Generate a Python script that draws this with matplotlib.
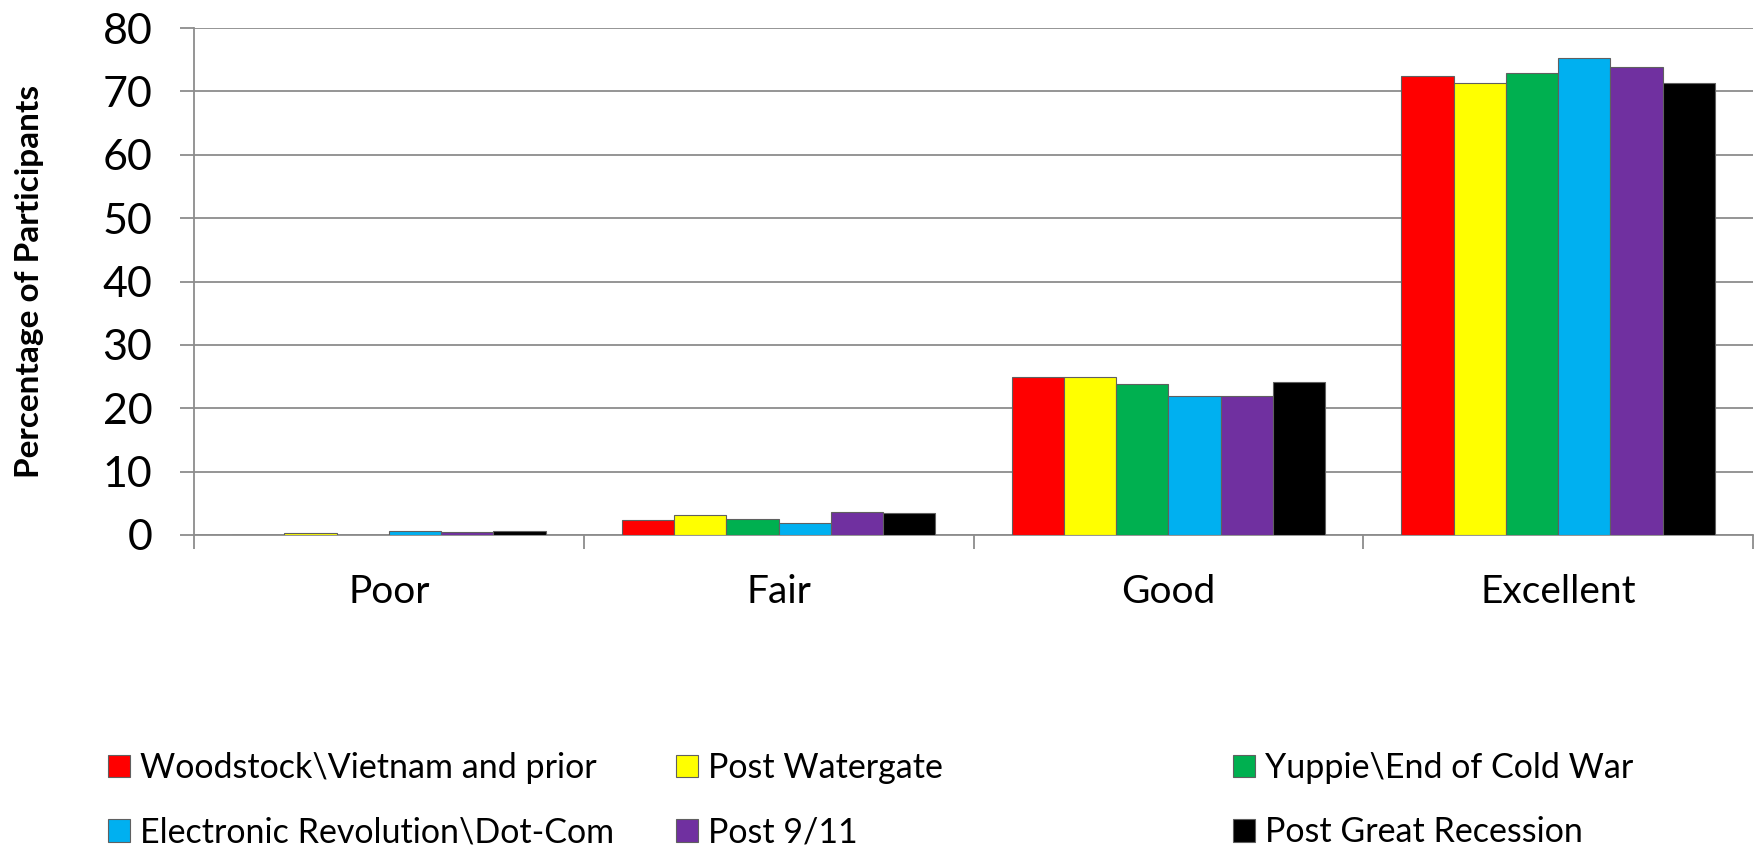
import matplotlib
matplotlib.use("Agg")
import matplotlib.pyplot as plt
import numpy as np

plt.rcParams['font.family'] = ['Lato', 'DejaVu Sans']

categories = ["Poor", "Fair", "Good", "Excellent"]
series_names = [
    "Woodstock\\Vietnam and prior",
    "Post Watergate",
    "Yuppie\\End of Cold War",
    "Electronic Revolution\\Dot-Com",
    "Post 9/11",
    "Post Great Recession",
]
woodstock = [0.0, 2.4, 25.0, 72.4]
watergate = [0.3, 3.2, 24.9, 71.4]
yuppie = [0.0, 2.6, 23.9, 72.9]
dotcom = [0.6, 1.9, 22.0, 75.2]
post911 = [0.4, 3.7, 21.9, 73.8]
recession = [0.7, 3.4, 24.2, 71.3]
series_values = [woodstock, watergate, yuppie, dotcom, post911, recession]
colors = ["#FF0000", "#FFFF00", "#00B050", "#00B0F0", "#7030A0", "#000000"]
yticks = [0, 10, 20, 30, 40, 50, 60, 70, 80]

W, H = 1760, 848
fig = plt.figure(figsize=(W / 100, H / 100), dpi=100)
ax = fig.add_axes([194 / W, 1 - 535 / H, (1753 - 194) / W, (535 - 28) / H])

x = np.arange(len(categories))
bw = 0.134
handles = []
for i, (vals, c) in enumerate(zip(series_values, colors)):
    offs = (i - 2.5) * bw
    b = ax.bar(x + offs, vals, width=bw, color=c, edgecolor="#606060", linewidth=0.8, zorder=3)
    handles.append(b)

ax.set_xlim(-0.5, 3.5)
ax.set_ylim(0, 80)
ax.set_yticks(yticks)
ax.yaxis.grid(True, color="#8c8c8c", linewidth=1.3, zorder=0)
ax.set_axisbelow(True)
for s in ["top", "right"]:
    ax.spines[s].set_visible(False)
for s in ["left", "bottom"]:
    ax.spines[s].set_color("#8c8c8c")
    ax.spines[s].set_linewidth(1.3)

ax.set_xticks(x)
ax.set_xticklabels(categories, fontsize=28)
ax.set_xticks(np.arange(-0.5, 4.0, 1.0), minor=True)
ax.tick_params(axis="x", which="major", length=0, pad=28)
ax.tick_params(axis="x", which="minor", length=10, width=1.3, color="#8c8c8c", direction="out")
ax.tick_params(axis="y", which="major", length=10, width=1.3, color="#8c8c8c", direction="out",
               labelsize=31, pad=20)

ax.set_ylabel("Percentage of Participants", fontsize=24, fontweight="bold")
ax.yaxis.set_label_coords(-(194 - 44) / (1753 - 194), 0.5)

col_x = [108 / W, 676 / W, 1233 / W]
for ci in range(3):
    hs = [handles[ci], handles[ci + 3]]
    ls = [series_names[ci], series_names[ci + 3]]
    fig.legend(hs, ls, loc="center left", bbox_to_anchor=(col_x[ci], 1 - 800 / H),
               frameon=False, fontsize=24.5, handlelength=0.65, handleheight=0.65,
               handletextpad=0.3, labelspacing=0.95, borderaxespad=0, borderpad=0)

fig.savefig("out.png", dpi=100)
